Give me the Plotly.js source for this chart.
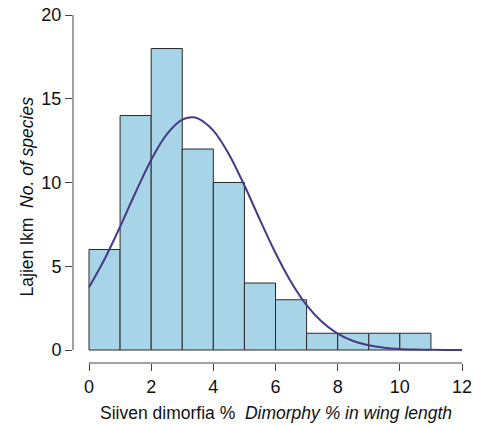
<!DOCTYPE html>
<html>
<head>
<meta charset="utf-8">
<script src="https://cdn.plot.ly/plotly-3.0.1.min.js"></script>
<style>html,body{margin:0;padding:0;background:#fff;}#chart{width:487px;height:425px;}</style>
</head>
<body>
<div id="chart"></div>
<script>
// Histogram: bin edges and counts
const breaks = [0, 1, 2, 3, 4, 5, 6, 7, 8, 9, 10, 11];
const counts = [6, 14, 18, 12, 10, 4, 3, 1, 1, 1, 1];
// Fitted normal curve
const curveX = [0, 0.5, 1, 1.5, 2, 2.5, 3, 3.3, 3.5, 4, 4.5, 5, 5.5, 6, 6.5, 7, 7.5, 8, 8.5, 9, 9.5, 10, 10.5, 11, 11.5, 12];
const curveY = [3.75, 5.42, 7.36, 9.42, 11.35, 12.87, 13.75, 13.9, 13.83, 13.10, 11.69, 9.82, 7.77, 5.79, 4.06, 2.68, 1.67, 0.98, 0.54, 0.28, 0.14, 0.063, 0.027, 0.011, 0.004, 0.001];
const xTicks = [0, 2, 4, 6, 8, 10, 12];
const yTicks = [0, 5, 10, 15, 20];
const xTitle = 'Siiven dimorfia %\u00a0\u00a0<i>Dimorphy % in wing length</i>';
const yTitle = 'Lajien lkm\u00a0\u00a0<i>No. of species</i>';

const centers = counts.map((c, i) => (breaks[i] + breaks[i + 1]) / 2);
const widths = counts.map((c, i) => breaks[i + 1] - breaks[i]);

const font = 'Liberation Sans, Arial, Helvetica, sans-serif';
const axisColor = '#444';

const traces = [
  {
    type: 'bar', x: centers, y: counts, width: widths,
    marker: {color: '#a7d4e6', line: {color: '#2a2a2a', width: 1}},
    hoverinfo: 'x+y'
  },
  {
    type: 'scatter', mode: 'lines', x: curveX, y: curveY,
    line: {color: '#463a84', width: 2, shape: 'spline'},
    hoverinfo: 'skip'
  }
];

const layout = {
  width: 487, height: 425,
  margin: {l: 73, r: 17, t: 10, b: 62},
  paper_bgcolor: '#fff', plot_bgcolor: '#fff',
  showlegend: false,
  bargap: 0,
  font: {family: font, size: 18, color: '#111'},
  xaxis: {
    range: [-0.515, 12.257], tickvals: xTicks, ticktext: xTicks.map(String),
    ticks: 'outside', ticklen: 7, tickcolor: axisColor, tickwidth: 1,
    showgrid: false, zeroline: false, showline: false,
    tickfont: {size: 18}
  },
  yaxis: {
    range: [-0.776, 20.3], tickvals: yTicks, ticktext: yTicks.map(String),
    ticks: 'outside', ticklen: 7, tickcolor: axisColor, tickwidth: 1,
    showgrid: false, zeroline: false, showline: false,
    tickfont: {size: 18}
  },
  annotations: [
    {text: xTitle, xref: 'paper', yref: 'paper', x: 0.511, y: -0.1416, xanchor: 'center', yanchor: 'middle',
     showarrow: false, font: {size: 17.5, family: font, color: '#111'}},
    {text: yTitle, xref: 'paper', yref: 'paper', x: -0.1134, y: 0.4717, xanchor: 'center', yanchor: 'middle',
     textangle: -90, showarrow: false, font: {size: 17.5, family: font, color: '#111'}}
  ],
  shapes: [
    {type: 'line', xref: 'paper', yref: 'y', x0: 0, x1: 0, y0: 0, y1: 20, line: {color: axisColor, width: 1}},
    {type: 'line', xref: 'x', yref: 'paper', x0: 0, x1: 12, y0: 0, y1: 0, line: {color: axisColor, width: 1}}
  ]
};

Plotly.newPlot('chart', traces, layout, {displayModeBar: false, staticPlot: true});
</script>
</body>
</html>
